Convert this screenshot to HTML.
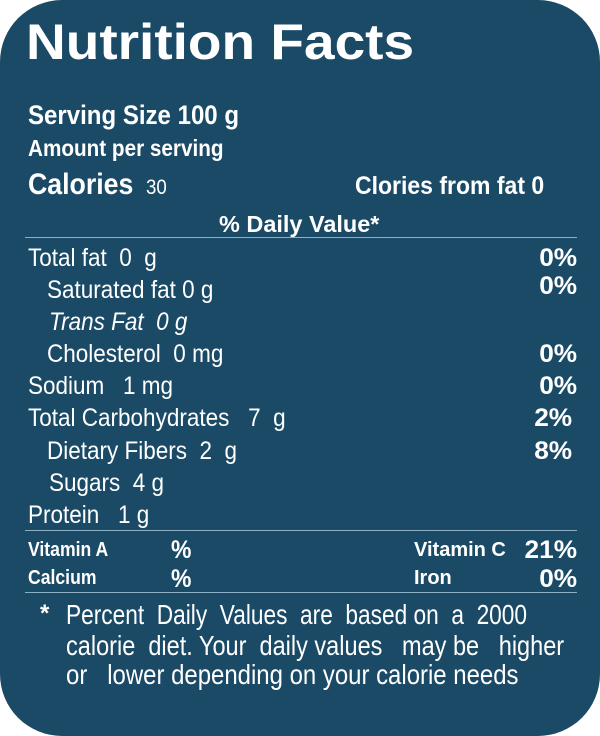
<!DOCTYPE html>
<html><head><meta charset="utf-8"><style>
html,body{margin:0;padding:0;background:#fff;}
#label{position:absolute;left:0;top:0;width:600px;height:736px;background:#1b4a67;border-radius:62px;overflow:hidden;color:#fff;font-family:"Liberation Sans",sans-serif;}
.t{position:absolute;white-space:nowrap;transform-origin:left center;transform:scaleX(0.9);}
.r{position:absolute;white-space:nowrap;transform-origin:right center;transform:scaleX(1.05);text-align:right;font-weight:bold;}
.line{position:absolute;left:25px;width:552px;height:1px;background:#8fb0c4;}
</style></head><body>
<div id="label">
<div class="t" style="left:26px;top:14px;font-size:50px;line-height:56px;font-weight:bold;transform:scaleX(1.1);">Nutrition Facts</div>
<div class="t" style="left:28px;top:100px;font-size:27px;line-height:30px;font-weight:bold;transform:scaleX(0.89);">Serving Size 100 g</div>
<div class="t" style="left:28px;top:135px;font-size:23px;line-height:26px;font-weight:bold;transform:scaleX(0.9);">Amount per serving</div>
<div class="t" style="left:28px;top:168px;font-size:30px;line-height:34px;font-weight:bold;transform:scaleX(0.89);">Calories <span style="font-size:21px;font-weight:normal;">&nbsp;30</span></div>
<div class="t" style="left:355px;top:171px;font-size:25px;line-height:30px;font-weight:bold;transform:scaleX(0.92);">Clories from fat 0</div>
<div class="t" style="left:219px;top:211px;font-size:23px;line-height:27px;font-weight:bold;transform:scaleX(1.02);">% Daily Value*</div>
<div class="line" style="top:237px;"></div>

<div class="t" style="left:28px;top:243px;font-size:25px;line-height:30px;">Total fat&nbsp; 0&nbsp; g</div>
<div class="r" style="right:23px;top:243px;font-size:25px;line-height:30px;">0%</div>
<div class="t" style="left:47px;top:275px;font-size:25px;line-height:30px;">Saturated fat 0 g</div>
<div class="r" style="right:23px;top:271px;font-size:25px;line-height:30px;">0%</div>
<div class="t" style="left:49px;top:307px;font-size:25px;line-height:30px;font-style:italic;">Trans Fat&nbsp; 0 g</div>
<div class="t" style="left:47px;top:339px;font-size:25px;line-height:30px;">Cholesterol&nbsp; 0 mg</div>
<div class="r" style="right:23px;top:339px;font-size:25px;line-height:30px;">0%</div>
<div class="t" style="left:28px;top:371px;font-size:25px;line-height:30px;">Sodium&nbsp;&nbsp; 1 mg</div>
<div class="r" style="right:23px;top:371px;font-size:25px;line-height:30px;">0%</div>
<div class="t" style="left:28px;top:403px;font-size:25px;line-height:30px;">Total Carbohydrates&nbsp;&nbsp; 7&nbsp; g</div>
<div class="r" style="right:28px;top:403px;font-size:25px;line-height:30px;">2%</div>
<div class="t" style="left:47px;top:436px;font-size:25px;line-height:30px;">Dietary Fibers&nbsp; 2&nbsp; g</div>
<div class="r" style="right:28px;top:436px;font-size:25px;line-height:30px;">8%</div>
<div class="t" style="left:49px;top:468px;font-size:25px;line-height:30px;">Sugars&nbsp; 4 g</div>
<div class="t" style="left:28px;top:500px;font-size:25px;line-height:30px;">Protein&nbsp;&nbsp; 1 g</div>
<div class="line" style="top:530px;"></div>

<div class="t" style="left:28px;top:538px;font-size:20px;line-height:24px;font-weight:bold;transform:scaleX(0.88);">Vitamin A</div>
<div class="t" style="left:171px;top:536px;font-size:25px;line-height:28px;font-weight:bold;transform:scaleX(0.92);">%</div>
<div class="t" style="left:28px;top:566px;font-size:20px;line-height:24px;font-weight:bold;transform:scaleX(0.88);">Calcium</div>
<div class="t" style="left:171px;top:565px;font-size:25px;line-height:28px;font-weight:bold;transform:scaleX(0.92);">%</div>
<div class="t" style="left:414px;top:538px;font-size:20px;line-height:24px;font-weight:bold;transform:scaleX(1.0);">Vitamin C</div>
<div class="r" style="right:23px;top:536px;font-size:25px;line-height:28px;">21%</div>
<div class="t" style="left:414px;top:566px;font-size:20px;line-height:24px;font-weight:bold;transform:scaleX(1.0);">Iron</div>
<div class="r" style="right:23px;top:565px;font-size:25px;line-height:28px;">0%</div>
<div class="line" style="top:592px;"></div>

<div class="t" style="left:40px;top:600px;font-size:24px;line-height:28px;font-weight:bold;transform:none;">*</div>
<div class="t" style="left:66px;top:599px;font-size:28px;line-height:32px;transform:scaleX(0.81);">Percent&nbsp; Daily&nbsp; Values&nbsp; are&nbsp; based on&nbsp; a&nbsp; 2000</div>
<div class="t" style="left:66px;top:630px;font-size:28px;line-height:32px;transform:scaleX(0.84);">calorie&nbsp; diet. Your&nbsp; daily values&nbsp;&nbsp; may be&nbsp;&nbsp; higher</div>
<div class="t" style="left:66px;top:659px;font-size:28px;line-height:32px;transform:scaleX(0.855);">or&nbsp;&nbsp; lower depending on your calorie needs</div>
</div>
</body></html>
